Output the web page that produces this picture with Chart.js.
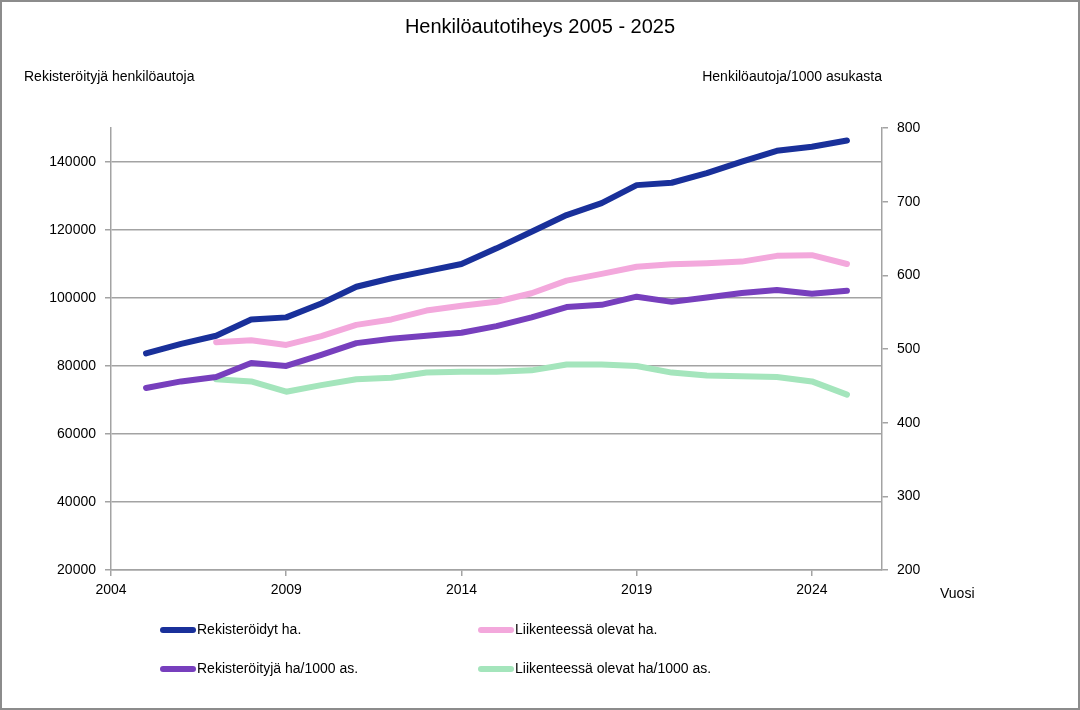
<!DOCTYPE html>
<html>
<head>
<meta charset="utf-8">
<script src="https://cdn.jsdelivr.net/npm/chart.js@4/dist/chart.umd.min.js"></script>
<style>
  html, body { margin: 0; padding: 0; background: #fff; }
  #wrap { width: 1080px; height: 710px; }
</style>
</head>
<body>
<div id="wrap"><canvas id="myChart"></canvas></div>
<script>
const years = [2005, 2006, 2007, 2008, 2009, 2010, 2011, 2012, 2013, 2014, 2015,
  2016, 2017, 2018, 2019, 2020, 2021, 2022, 2023, 2024, 2025];

// left axis (vehicles)
const rekisteroidyt = [83700, 86500, 88900, 93700, 94300, 98400, 103300, 105800, 107900, 110000, 114600,
  119500, 124400, 127900, 133200, 133900, 136700, 140100, 143300, 144500, 146300];
const liikenteessa = [null, null, 87000, 87600, 86200, 88800, 92100, 93700, 96300, 97700, 98900,
  101400, 105100, 107100, 109200, 109900, 110200, 110700, 112400, 112600, 110000];

// right axis (per 1000 residents)
const rekisteroityja1000 = [447, 456, 462, 481, 477, 492, 508, 514, 518, 522, 531,
  543, 557, 560, 571, 564, 570, 576, 580, 575, 579];
const liikenteessa1000 = [null, null, 459, 456, 442, 451, 459, 461, 468, 469, 469,
  471, 479, 479, 477, 468, 464, 463, 462, 456, 438];

const xTicks = [2004, 2009, 2014, 2019, 2024];
const leftTicks = [20000, 40000, 60000, 80000, 100000, 120000, 140000];
const rightTicks = [200, 300, 400, 500, 600, 700, 800];

const FONT = "'Liberation Sans', Arial, sans-serif";
const GRID = "#a3a3a3";

function points(values) {
  return years.map((yr, i) => ({ x: yr, y: values[i] }));
}

function lineSet(label, values, color, axis) {
  return {
    label: label,
    data: points(values),
    borderColor: color,
    backgroundColor: color,
    borderWidth: 6,
    borderCapStyle: "round",
    borderJoinStyle: "round",
    pointRadius: 0,
    pointHoverRadius: 0,
    tension: 0,
    spanGaps: false,
    yAxisID: axis,
  };
}

const plain = (v) => String(v);

const texts = {
  id: "texts",
  beforeDraw(chart) {
    const c = chart.ctx;
    c.save();
    c.fillStyle = "#fff";
    c.fillRect(0, 0, chart.width, chart.height);
    c.restore();
  },
  afterDraw(chart) {
    const c = chart.ctx;
    c.save();
    c.fillStyle = "#000";
    c.textBaseline = "middle";
    c.font = "20px " + FONT;
    c.textAlign = "center";
    c.fillText("Henkilöautotiheys 2005 - 2025", 540, 27);
    c.font = "14px " + FONT;
    c.textAlign = "left";
    c.fillText("Rekisteröityjä henkilöautoja", 24, 77);
    c.textAlign = "right";
    c.fillText("Henkilöautoja/1000 asukasta", 882, 77);
    c.textAlign = "left";
    c.fillText("Vuosi", 940, 594);

    // legend, two columns
    const cols = [160, 478];
    const rows = [630, 669];
    chart.data.datasets.forEach((ds, i) => {
      const x = cols[i % 2];
      const y = rows[Math.floor(i / 2)];
      c.strokeStyle = ds.borderColor;
      c.lineWidth = 6;
      c.lineCap = "round";
      c.beginPath();
      c.moveTo(x + 3, y);
      c.lineTo(x + 33, y);
      c.stroke();
      c.fillText(ds.label, x + 37, y);
    });

    // outer frame
    c.strokeStyle = "#8c8c8c";
    c.lineWidth = 2;
    c.strokeRect(1, 1, chart.width - 2, chart.height - 2);
    c.restore();
  },
};

const ctx = document.getElementById("myChart");

new Chart(ctx, {
  type: "line",
  data: {
    datasets: [
      lineSet("Rekisteröidyt ha.", rekisteroidyt, "#19309a", "y"),
      lineSet("Liikenteessä olevat ha.", liikenteessa, "#f3a8dc", "y"),
      lineSet("Rekisteröityjä ha/1000 as.", rekisteroityja1000, "#773fbd", "y1"),
      lineSet("Liikenteessä olevat ha/1000 as.", liikenteessa1000, "#a4e5bc", "y1"),
    ],
  },
  options: {
    responsive: true,
    maintainAspectRatio: false,
    animation: false,
    layout: { padding: { top: 128, left: 0, right: 0, bottom: 0 } },
    plugins: {
      legend: { display: false },
      title: { display: false },
      tooltip: { enabled: false },
    },
    scales: {
      x: {
        type: "linear",
        min: 2004,
        max: 2026,
        afterBuildTicks: (s) => { s.ticks = xTicks.map((v) => ({ value: v })); },
        afterFit: (s) => { s.height = 140; },
        border: { color: GRID, width: 1.5 },
        grid: { drawOnChartArea: false, color: GRID, lineWidth: 1.5, tickLength: 6 },
        ticks: { color: "#000", font: { family: FONT, size: 14 }, padding: 6, maxRotation: 0, callback: plain },
      },
      y: {
        position: "left",
        min: 20000,
        max: 150000,
        afterBuildTicks: (s) => { s.ticks = leftTicks.map((v) => ({ value: v })); },
        afterFit: (s) => { s.width = 111; },
        border: { color: GRID, width: 1.5 },
        grid: { color: GRID, lineWidth: 1.5, tickLength: 6 },
        ticks: { color: "#000", font: { family: FONT, size: 14 }, padding: 9, callback: plain },
      },
      y1: {
        position: "right",
        min: 200,
        max: 800,
        afterBuildTicks: (s) => { s.ticks = rightTicks.map((v) => ({ value: v })); },
        afterFit: (s) => { s.width = 198; },
        border: { color: GRID, width: 1.5 },
        grid: { drawOnChartArea: false, color: GRID, lineWidth: 1.5, tickLength: 6 },
        ticks: { color: "#000", font: { family: FONT, size: 14 }, padding: 9, callback: plain },
      },
    },
  },
  plugins: [texts],
});
</script>
</body>
</html>
